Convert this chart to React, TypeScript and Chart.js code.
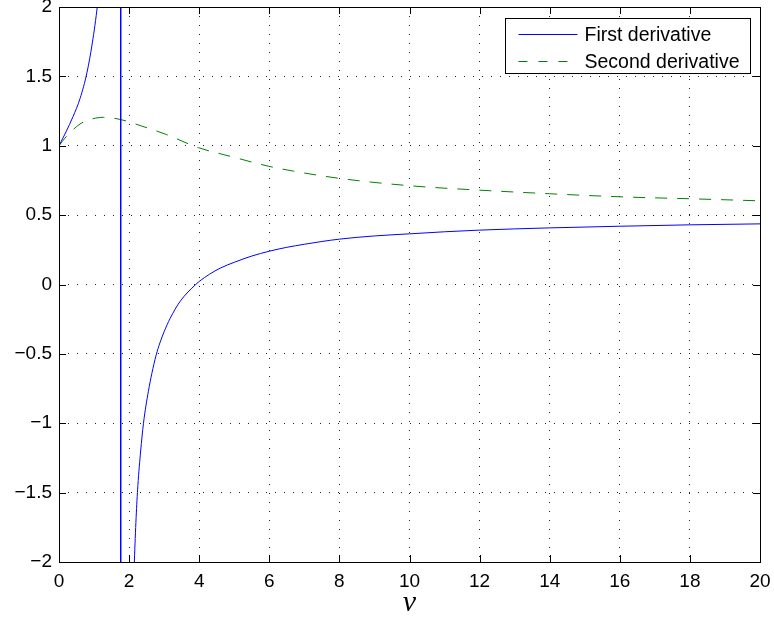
import React, { useEffect, useRef } from "react";
import { Chart, registerables } from "chart.js";

Chart.register(...registerables);

// First derivative, left branch (before the pole)
const firstLeftX = [0, 0.2, 0.4, 0.6, 0.8, 0.95, 1.1, 1.3, 1.5, 1.65, 1.7, 1.76];
const firstLeftY = [1, 1.1, 1.21, 1.34, 1.53, 1.74, 2.02, 2.55, 3.6, 6, 10, 50];
// Jump across the pole
const poleX = [1.76, 1.76];
const poleY = [50, -50];
// First derivative, right branch
const firstRightX = [1.76, 1.8, 1.9, 2.0, 2.1, 2.15, 2.2, 2.25, 2.33, 2.41, 2.55, 2.65, 2.77, 2.88, 3.0, 3.17, 3.46, 3.9, 4.0, 4.3, 4.6, 5.0, 5.5, 6.0, 6.5, 7.0, 7.5, 8, 9, 10, 11, 12, 14, 16, 18, 20];
const firstRightY = [-50, -25, -6, -3.5, -2.4, -2, -1.68, -1.45, -1.2, -1.0, -0.77, -0.64, -0.51, -0.42, -0.34, -0.245, -0.12, 0, 0.022, 0.075, 0.118, 0.16, 0.205, 0.24, 0.268, 0.29, 0.31, 0.327, 0.35, 0.365, 0.38, 0.392, 0.408, 0.42, 0.43, 0.437];
// Second derivative
const secondX = [0, 0.17, 0.6, 0.9, 1.27, 1.74, 2.36, 3.03, 3.98, 4.93, 5.97, 6.69, 8, 10, 12, 14, 16, 18, 20];
const secondY = [1, 1.055, 1.157, 1.19, 1.205, 1.19, 1.142, 1.084, 0.986, 0.921, 0.853, 0.817, 0.765, 0.712, 0.68, 0.654, 0.632, 0.618, 0.603];

const seriesLabels = ["First derivative", "Second derivative"];
const xTitle = "\u03bd";

const FONT = "'Liberation Sans', Arial, Helvetica, sans-serif";

const toPts = (xs: number[], ys: number[]) => xs.map((x, i) => ({ x, y: ys[i] }));

const boxPlugin = {
  id: "matlabBox",
  afterDraw(chart: any) {
    const { ctx, chartArea, scales } = chart;
    const { left, right, top, bottom } = chartArea;
    ctx.save();
    ctx.strokeStyle = "#000";
    ctx.lineWidth = 1;
    ctx.setLineDash([]);
    // inward ticks
    const tl = 7;
    ctx.beginPath();
    scales.x.ticks.forEach((t: any) => {
      const px = Math.round(scales.x.getPixelForValue(t.value)) + 0.5;
      ctx.moveTo(px, bottom);
      ctx.lineTo(px, bottom - tl);
      ctx.moveTo(px, top);
      ctx.lineTo(px, top + tl);
    });
    scales.y.ticks.forEach((t: any) => {
      const py = Math.round(scales.y.getPixelForValue(t.value)) + 0.5;
      ctx.moveTo(left, py);
      ctx.lineTo(left + tl, py);
      ctx.moveTo(right, py);
      ctx.lineTo(right - tl, py);
    });
    ctx.stroke();
    ctx.strokeRect(Math.round(left) + 0.5, Math.round(top) + 0.5, Math.round(right - left), Math.round(bottom - top));

    // legend
    const bw = 245;
    const bh = 55;
    const bx = Math.round(right - 10 - bw) + 0.5;
    const by = Math.round(top + 11) + 0.5;
    ctx.fillStyle = "#fff";
    ctx.fillRect(bx, by, bw, bh);
    ctx.strokeRect(bx, by, bw, bh);
    const rows = [
      { color: "#0000ff", dash: [] as number[] },
      { color: "#008000", dash: [9, 11] },
    ];
    rows.forEach((r, i) => {
      const yy = Math.round(by + 15 + i * 27) + 0.5;
      ctx.strokeStyle = r.color;
      ctx.setLineDash(r.dash);
      ctx.beginPath();
      ctx.moveTo(bx + 13, yy);
      ctx.lineTo(bx + 72, yy);
      ctx.stroke();
      ctx.setLineDash([]);
      ctx.fillStyle = "#000";
      ctx.font = `19.5px ${FONT}`;
      ctx.textBaseline = "middle";
      ctx.textAlign = "left";
      ctx.fillText(seriesLabels[i], bx + 79, yy + 1);
    });
    ctx.restore();
  },
};

export default function App() {
  const ref = useRef<HTMLCanvasElement | null>(null);
  useEffect(() => {
    if (!ref.current) return;
    const chart = new Chart(ref.current, {
      type: "line",
      data: {
        datasets: [
          {
            label: seriesLabels[0],
            data: toPts(firstLeftX, firstLeftY),
            borderColor: "#0000ff",
            borderWidth: 1,
            pointRadius: 0,
            cubicInterpolationMode: "monotone",
          },
          {
            label: "pole",
            data: toPts(poleX, poleY),
            borderColor: "#0000ff",
            borderWidth: 1,
            pointRadius: 0,
          },
          {
            label: "first-right",
            data: toPts(firstRightX, firstRightY),
            borderColor: "#0000ff",
            borderWidth: 1,
            pointRadius: 0,
            cubicInterpolationMode: "monotone",
          },
          {
            label: seriesLabels[1],
            data: toPts(secondX, secondY),
            borderColor: "#008000",
            borderWidth: 1,
            borderDash: [12, 10],
            pointRadius: 0,
            cubicInterpolationMode: "monotone",
          },
        ],
      },
      options: {
        animation: false,
        responsive: false,
        parsing: false as any,
        layout: { padding: { left: 0, top: 7, right: 14, bottom: 0 } },
        plugins: { legend: { display: false }, tooltip: { enabled: false } },
        scales: {
          x: {
            type: "linear",
            min: 0,
            max: 20,
            border: { display: false, dash: [1, 8] },
            grid: { color: "#222", lineWidth: 1, drawTicks: false },
            ticks: {
              stepSize: 2,
              color: "#000",
              padding: 8,
              font: { family: FONT, size: 19 },
              maxRotation: 0,
            },
            title: {
              display: true,
              text: xTitle,
              color: "#000",
              font: { family: "'Liberation Serif', 'Times New Roman', serif", size: 30, style: "italic" },
              padding: { top: 0, bottom: -4 },
            },
            afterFit(scale: any) {
              scale.height = 55;
              scale.paddingLeft = 0;
              scale.paddingRight = 0;
            },
          },
          y: {
            type: "linear",
            min: -2,
            max: 2,
            border: { display: false, dash: [1, 8] },
            grid: { color: "#222", lineWidth: 1, drawTicks: false },
            ticks: {
              stepSize: 0.5,
              color: "#000",
              padding: 7,
              font: { family: FONT, size: 19 },
              callback: (v: any) => String(v).replace("-", "\u2212"),
            },
            afterFit(scale: any) {
              scale.width = 59;
              scale.paddingTop = 0;
              scale.paddingBottom = 0;
            },
          },
        },
      },
      plugins: [boxPlugin],
    });
    return () => chart.destroy();
  }, []);
  return (
    <div style={{ position: "fixed", left: 0, top: 0, width: 774, height: 617, background: "#fff" }}>
      <canvas ref={ref} width={774} height={617} style={{ display: "block" }} />
    </div>
  );
}
